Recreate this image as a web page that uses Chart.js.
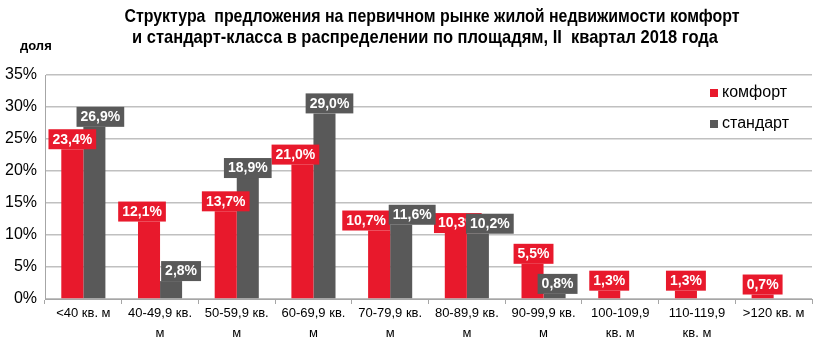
<!DOCTYPE html>
<html>
<head>
<meta charset="utf-8">
<script src="https://cdn.jsdelivr.net/npm/chart.js@4/dist/chart.umd.min.js"></script>
<style>
html,body{margin:0;padding:0;background:#fff;}
#wrap{width:816px;height:352px;position:relative;}
</style>
</head>
<body>
<div id="wrap"><canvas id="c" width="816" height="352"></canvas></div>
<script>
const titleLines = ['Структура  предложения на первичном рынке жилой недвижимости комфорт', 'и стандарт-класса в распределении по площадям, II  квартал 2018 года'];
const yAxisTitle = 'доля';
const categories = [['<40 кв. м'], ['40-49,9 кв.', 'м'], ['50-59,9 кв.', 'м'], ['60-69,9 кв.', 'м'], ['70-79,9 кв.', 'м'], ['80-89,9 кв.', 'м'], ['90-99,9 кв.', 'м'], ['100-109,9', 'кв. м'], ['110-119,9', 'кв. м'], ['>120 кв. м']];
const seriesNames = ['комфорт', 'стандарт'];
const comfortValues = [23.4, 12.1, 13.7, 21.0, 10.7, 10.3, 5.5, 1.3, 1.3, 0.7];
const standardValues = [26.9, 2.8, 18.9, 29.0, 11.6, 10.2, 0.8, null, null, null];
const yTicks = [0, 5, 10, 15, 20, 25, 30, 35];

// horizontal nudges of the value labels (px), as placed in the original
const comfortLabelShift = [0, -7, 0, -7, -13, 2, 1, 0, 0, 0];
const standardLabelShift = [6, 10, 0, 5, 11, 12, 3, 0, 0, 0];
const labelShifts = [comfortLabelShift, standardLabelShift];

const RED = '#e8192c';
const GRAY = '#595959';
const SANS = '"Liberation Sans", Arial, sans-serif';

const fmt = v => v.toFixed(1).replace('.', ',') + '%';

function narrowText(ctx, txt, cx, cy, targetW) {
  const w = ctx.measureText(txt).width;
  const sx = targetW / w;
  ctx.save();
  ctx.translate(cx, cy);
  ctx.scale(sx, 1);
  ctx.fillText(txt, 0, 0);
  ctx.restore();
}

const decorPlugin = {
  id: 'decor',
  afterDraw(chart) {
    const ctx = chart.ctx;
    ctx.save();
    ctx.fillStyle = '#000';
    ctx.textAlign = 'center';
    ctx.textBaseline = 'middle';
    ctx.font = 'bold 19px ' + SANS;
    narrowText(ctx, titleLines[0], 432, 17, 615);
    narrowText(ctx, titleLines[1], 425, 38, 586);
    ctx.font = 'bold 13px ' + SANS;
    ctx.textAlign = 'left';
    ctx.fillText(yAxisTitle, 20, 46);
    // legend
    const colors = [RED, GRAY];
    const ys = [93, 124];
    ctx.font = '16px ' + SANS;
    for (let i = 0; i < seriesNames.length; i++) {
      ctx.fillStyle = colors[i];
      ctx.fillRect(710, ys[i] - 4, 8, 8);
      ctx.fillStyle = '#000';
      ctx.fillText(seriesNames[i], 722, ys[i]);
    }
    ctx.restore();
  },
  afterDatasetsDraw(chart) {
    const ctx = chart.ctx;
    ctx.save();
    ctx.font = 'bold 14px ' + SANS;
    ctx.textAlign = 'center';
    ctx.textBaseline = 'middle';
    chart.data.datasets.forEach((ds, di) => {
      const meta = chart.getDatasetMeta(di);
      meta.data.forEach((bar, i) => {
        const v = ds.data[i];
        if (v === null || v === undefined) return;
        const txt = fmt(v);
        const cx = bar.x + (labelShifts[di][i] || 0);
        const w = ctx.measureText(txt).width + 8;
        const h = 20;
        const x = cx - w / 2;
        const y = bar.y - h;
        ctx.fillStyle = ds.backgroundColor;
        ctx.fillRect(x, y, w, h);
        ctx.fillStyle = '#fff';
        ctx.fillText(txt, cx, y + h / 2 + 0.5);
      });
    });
    ctx.restore();
  }
};

new Chart(document.getElementById('c'), {
  type: 'bar',
  data: {
    labels: categories,
    datasets: [
      { label: seriesNames[0], data: comfortValues, backgroundColor: RED, categoryPercentage: 0.575, barPercentage: 1.0 },
      { label: seriesNames[1], data: standardValues, backgroundColor: GRAY, categoryPercentage: 0.575, barPercentage: 1.0 }
    ]
  },
  options: {
    responsive: false,
    animation: false,
    events: [],
    layout: { padding: { top: 75, right: 4, left: 0, bottom: 0 } },
    plugins: { legend: { display: false }, tooltip: { enabled: false }, title: { display: false } },
    scales: {
      x: {
        afterFit: s => { s.height = 53; },
        grid: { offset: true, drawOnChartArea: false, drawTicks: true, tickLength: 5, color: '#a6a6a6', lineWidth: 1 },
        border: { color: '#a6a6a6', width: 1 },
        ticks: { color: '#000', font: { family: SANS, size: 13, lineHeight: 1.5 }, padding: 0, maxRotation: 0, autoSkip: false }
      },
      y: {
        min: 0, max: 35,
        afterFit: s => { s.width = 45; },
        afterBuildTicks: s => { s.ticks = yTicks.map(v => ({ value: v })); },
        grid: { color: '#c0c0c0', lineWidth: 1.5, drawTicks: false },
        border: { color: '#a6a6a6', width: 1 },
        ticks: { color: '#000', font: { family: SANS, size: 16 }, padding: 8, callback: v => v + '%' }
      }
    }
  },
  plugins: [decorPlugin]
});
</script>
</body>
</html>
